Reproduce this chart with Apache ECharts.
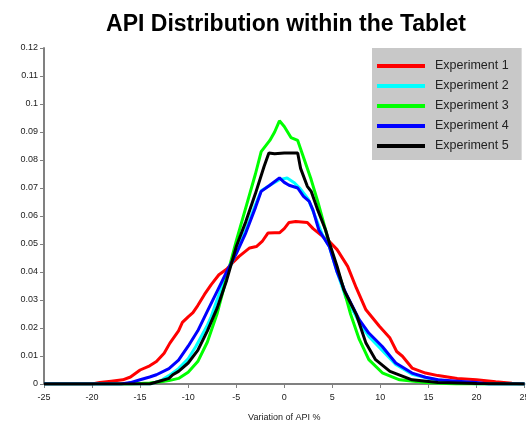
<!DOCTYPE html>
<html><head><meta charset="utf-8">
<script src="https://cdn.jsdelivr.net/npm/echarts@6/dist/echarts.min.js"></script>
<style>html,body{margin:0;padding:0;background:#fff}#c{width:526px;height:423px}</style>
</head><body><div id="c"></div>
<script>
const seriesNames = ['Experiment 1','Experiment 2','Experiment 3','Experiment 4','Experiment 5'];
const xTicks = [-25,-20,-15,-10,-5,0,5,10,15,20,25];
const yTicks = [0,0.01,0.02,0.03,0.04,0.05,0.06,0.07,0.08,0.09,0.1,0.11,0.12];

const exp1X = [-25,-20,-19.2,-18,-16.8,-16,-15,-14,-13.3,-12.5,-11.9,-11,-10.6,-10,-9.5,-9,-8.3,-7.6,-6.8,-6,-5.4,-4.7,-3.6,-2.9,-2.3,-1.7,-1,-0.5,0,0.5,1.2,2.4,3,4,4.7,5.5,6.6,7.5,8.5,9.9,11,11.7,12.3,13.3,14.7,16,18,20,22,23.7,25];
const exp1Y = [0,0,0.0005,0.001,0.0015,0.0025,0.005,0.0065,0.008,0.011,0.0146,0.019,0.022,0.024,0.0255,0.028,0.032,0.0355,0.039,0.041,0.0432,0.0456,0.0486,0.0491,0.0509,0.0539,0.054,0.054,0.0555,0.0577,0.058,0.0577,0.0555,0.0527,0.0509,0.048,0.042,0.0343,0.0265,0.0206,0.0164,0.0116,0.0099,0.0057,0.0039,0.003,0.002,0.0015,0.0008,0.0003,0];

const exp2X = [-25,-14,-13,-12.7,-12,-11,-10,-9.2,-8,-7.6,-7,-6,-5,-4,-3,-2.4,-1.5,-0.5,0.3,1,1.6,2.5,3.2,4,4.7,5.5,6.4,7.8,8.8,10.2,11.6,13.3,15,17,20,25];
const exp2Y = [0,0,0.001,0.0015,0.003,0.0055,0.009,0.0134,0.021,0.0241,0.030,0.039,0.047,0.055,0.064,0.069,0.071,0.073,0.0736,0.072,0.070,0.066,0.060,0.053,0.049,0.040,0.031,0.022,0.017,0.012,0.007,0.0035,0.002,0.001,0,0];

const exp3X = [-25,-16,-15,-14,-13,-12,-11,-10,-9,-8,-7,-6,-5,-4,-3,-2.4,-1.5,-1,-0.5,0,0.7,1.4,2,2.8,3.5,4.7,5.4,6.1,6.9,7.8,8.8,10.2,12,14.7,17.9,25];
const exp3Y = [0,0,0.0002,0.0004,0.0007,0.0012,0.002,0.0042,0.008,0.015,0.025,0.038,0.051,0.063,0.075,0.083,0.087,0.090,0.094,0.092,0.088,0.087,0.081,0.073,0.065,0.050,0.042,0.035,0.025,0.016,0.0087,0.004,0.0015,0.0005,0,0];

const exp4X = [-25,-17,-16,-15,-14,-13.3,-12,-11,-10,-9,-8,-7,-6,-5,-4,-3,-2.4,-1.5,-0.5,0,0.5,1.4,2,2.6,3,3.6,4.7,5.5,6.4,7.8,8.8,10.2,11.6,13.3,14.7,16,18,20,21.3,25];
const exp4Y = [0,0,0.0005,0.0015,0.0025,0.0033,0.0055,0.0085,0.0135,0.019,0.026,0.033,0.040,0.0465,0.054,0.063,0.0688,0.071,0.0736,0.072,0.071,0.070,0.067,0.0652,0.062,0.055,0.049,0.040,0.0325,0.023,0.0182,0.0134,0.0075,0.0039,0.0024,0.0015,0.001,0.0005,0,0];

const exp5X = [-25,-14,-13,-12,-11.6,-11,-10,-9,-8,-7,-6,-5,-4,-3,-2.1,-1.6,-1,0,1.4,1.7,2.4,2.8,3.5,4.3,4.7,5.5,6.2,7.5,8.5,9.5,11,13.3,16,20,25];
const exp5Y = [0,0,0.001,0.002,0.0033,0.0045,0.0075,0.012,0.019,0.027,0.037,0.049,0.058,0.068,0.0777,0.0825,0.0822,0.0825,0.0825,0.077,0.0706,0.0688,0.062,0.055,0.0504,0.042,0.0337,0.0248,0.0146,0.0087,0.0045,0.0015,0.0005,0.0002,0];

const colors = ['#ff0000','#00ffff','#00ff00','#0000ff','#000000'];
const allX = [exp1X,exp2X,exp3X,exp4X,exp5X];
const allY = [exp1Y,exp2Y,exp3Y,exp4Y,exp5Y];

const chart = echarts.init(document.getElementById('c'));
const axisCol = '#808080';
const font = '"Liberation Sans", Arial, sans-serif';
chart.setOption({
  animation: false,
  backgroundColor: '#fff',
  title: {
    text: 'API Distribution within the Tablet',
    left: 281, top: 8, textAlign: 'center',
    textStyle: {fontFamily: font, fontSize: 23, fontWeight: 'bold', color: '#000'}
  },
  legend: {
    orient: 'vertical', left: 372, top: 48,
    backgroundColor: '#c8c8c8', padding: [11, 13, 7, 5],
    icon: 'rect', itemWidth: 48, itemHeight: 4, itemGap: 6,
    textStyle: {fontFamily: font, fontSize: 12.5, color: '#222', lineHeight: 14, padding: [0, 0, 0, 5]},
    data: seriesNames
  },
  grid: {left: 44, right: 1.5, top: 48, bottom: 39, containLabel: false, outerBoundsMode: 'none'},
  xAxis: {
    type: 'value', min: xTicks[0], max: xTicks[xTicks.length-1], interval: 5,
    name: 'Variation of API %', nameLocation: 'middle', nameGap: 29,
    nameTextStyle: {fontFamily: font, fontSize: 9, color: '#222'},
    axisLine: {onZero: false, lineStyle: {color: axisCol, width: 2}},
    axisTick: {length: 4, lineStyle: {color: axisCol, width: 1}},
    axisLabel: {fontFamily: font, fontSize: 9, color: '#222', margin: 9, hideOverlap: false},
    splitLine: {show: false}
  },
  yAxis: {
    type: 'value', min: yTicks[0], max: yTicks[yTicks.length-1], interval: 0.01,
    axisLine: {show: true, onZero: false, lineStyle: {color: axisCol, width: 2}},
    axisTick: {show: true, length: 4, lineStyle: {color: axisCol, width: 1}},
    axisLabel: {fontFamily: font, fontSize: 9, color: '#222', margin: 6},
    splitLine: {show: false}
  },
  series: seriesNames.map((n, i) => ({
    name: n, type: 'line', showSymbol: false, symbol: 'none',
    color: colors[i],
    lineStyle: {color: colors[i], width: 3},
    data: allX[i].map((x, j) => [x, allY[i][j]]),
    z: 2 + i
  }))
});
</script></body></html>
